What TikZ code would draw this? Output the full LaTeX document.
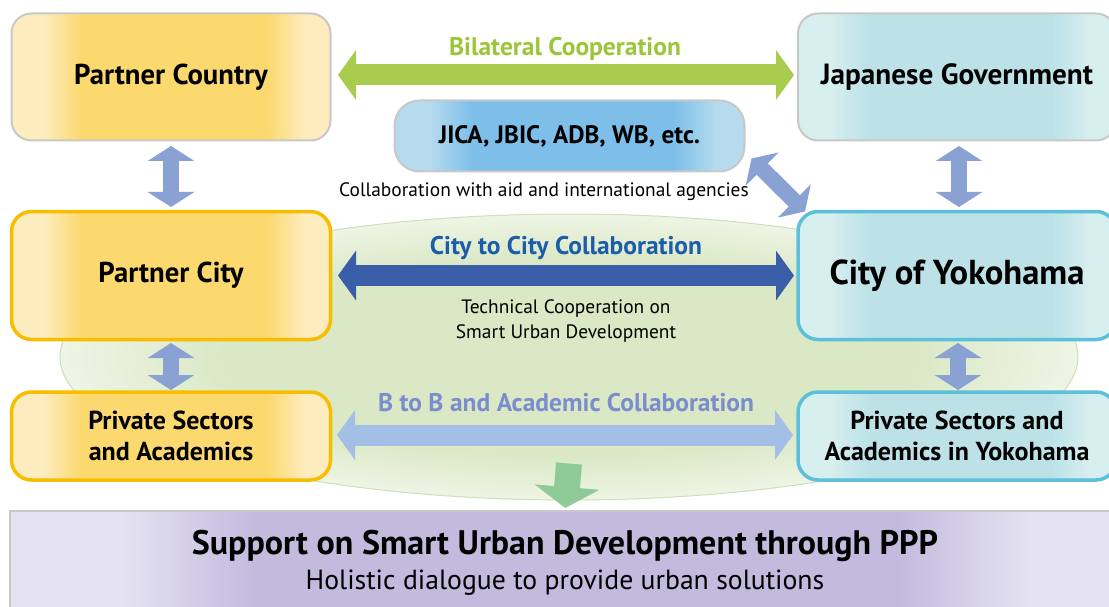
\documentclass[tikz,border=0pt]{standalone}
\usepackage{fontspec}
\setmainfont{PT Sans}
\usetikzlibrary{arrows.meta, shapes.geometric}

\definecolor{yellowedge}{RGB}{253,236,190}
\definecolor{yellowmid}{RGB}{252,217,110}
\definecolor{tealedge}{RGB}{216,239,239}
\definecolor{tealmid}{RGB}{188,226,232}
\definecolor{blueedge}{RGB}{182,219,238}
\definecolor{bluemid}{RGB}{126,191,234}
\definecolor{lilacedge}{RGB}{229,227,241}
\definecolor{lilacmid}{RGB}{195,187,222}
\definecolor{zonemid}{RGB}{218,232,198}
\definecolor{zoneedge}{RGB}{238,245,229}
\definecolor{zoneline}{RGB}{205,224,182}
\definecolor{greyline}{RGB}{200,200,200}
\definecolor{yellowline}{RGB}{248,189,0}
\definecolor{cyanline}{RGB}{92,192,218}
\definecolor{bilatgreen}{RGB}{168,205,78}
\definecolor{bilattext}{RGB}{156,198,58}
\definecolor{citoblue}{RGB}{58,95,168}
\definecolor{citotext}{RGB}{28,92,170}
\definecolor{btobblue}{RGB}{163,191,230}
\definecolor{btobtext}{RGB}{122,141,205}
\definecolor{linkblue}{RGB}{138,161,212}
\definecolor{resultgreen}{RGB}{143,203,152}

\newcommand{\barshading}[3]{\pgfdeclarehorizontalshading{#1}{100bp}{color(0bp)=(#2); color(30bp)=(#2); color(36bp)=(#3); color(65bp)=(#3); color(71bp)=(#2); color(100bp)=(#2)}}
\barshading{yellowfill}{yellowedge}{yellowmid}
\barshading{tealfill}{tealedge}{tealmid}
\barshading{bluefill}{blueedge}{bluemid}
\barshading{lilacfill}{lilacedge}{lilacmid}
\pgfdeclareradialshading{zonefill}{\pgfpoint{0bp}{0bp}}{color(0bp)=(zonemid); color(17bp)=(zonemid); color(25bp)=(zoneedge); color(50bp)=(zoneedge)}

\begin{document}
\begin{tikzpicture}[x = 1pt, y = -1pt,
        box/.style = {rounded corners = 20pt, minimum width = 319pt, inner sep = 0pt, outer sep = 0pt, align = center, font = \bfseries\fontsize{28.7}{31}\selectfont},
        greybox/.style = {box, draw = greyline, line width = 2pt},
        yellowbox/.style = {box, draw = yellowline, line width = 3.5pt, shading = yellowfill},
        cyanbox/.style = {box, draw = cyanline, line width = 3.5pt, shading = tealfill},
        fat/.style = {line width = 21pt, {Triangle[length = 18pt, width = 49pt]}-{Triangle[length = 18pt, width = 49pt]}},
        link/.style = {draw = linkblue, line width = 16pt, {Triangle[length = 15pt, width = 46pt]}-{Triangle[length = 15pt, width = 46pt]}},
        caption/.style = {font = \bfseries\fontsize{25.5}{28}\selectfont},
        note/.style = {align = center, font = \fontsize{19.4}{25}\selectfont}]
        \clip (0, 0) rectangle (1109, 607);
        \node [ellipse, minimum width = 1018pt, minimum height = 286pt, inner sep = 0pt, shading = zonefill, draw = zoneline, line width = 1pt] (zone) at (569, 357) {};
        % boxes
        \node [greybox, shading = yellowfill, minimum height = 127pt] (pcountry) at (171, 77) {Partner Country};
        \node [greybox, shading = tealfill, minimum width = 318pt, minimum height = 127pt, font = \bfseries\fontsize{29.2}{31}\selectfont] (jgov) at (957, 77) {Japanese Government};
        \node [greybox, shading = bluefill, minimum width = 350pt, minimum height = 71pt, rounded corners = 25pt, font = \bfseries\fontsize{25.2}{28}\selectfont] (jica) at (569.5, 136) {JICA, JBIC, ADB, WB, etc.};
        \node [yellowbox, minimum height = 128pt] (pcity) at (171, 275.5) {Partner City};
        \node [cyanbox, minimum width = 318pt, minimum height = 128pt, font = \bfseries\fontsize{34.6}{38}\selectfont] (yokohama) at (957, 275.5) {City of Yokohama};
        \node [yellowbox, minimum height = 88pt, font = \bfseries\fontsize{26}{31}\selectfont] (pleft) at (171, 436) {Private Sectors\\and Academics};
        \node [cyanbox, minimum width = 318pt, minimum height = 88pt, font = \bfseries\fontsize{26}{31}\selectfont] (pright) at (957, 436) {Private Sectors and\\Academics in Yokohama};
        \node [greybox, shading = lilacfill, sharp corners, minimum width = 1110pt, minimum height = 103pt, font = \bfseries\fontsize{34}{35}\selectfont] (support) at (565, 562.5) {Support on Smart Urban Development through PPP\\\mdseries\fontsize{27.7}{32}\selectfont Holistic dialogue to provide urban solutions};
        % arrows
        \draw [fat, draw = bilatgreen, shorten <= 7.5pt, shorten >= 4pt] ([yshift = 2pt]pcountry.east) -- ([yshift = 2pt]jgov.west);
        \draw [fat, draw = citoblue, shorten <= 7.5pt, shorten >= 4pt] (pcity.east) -- (yokohama.west);
        \draw [fat, draw = btobblue, shorten <= 6.5pt, shorten >= 5pt] ([yshift = 1pt]pleft.east) -- ([yshift = 1pt]pright.west);
        \draw [link, shorten <= 5.5pt, shorten >= 4.5pt] (pcountry.south) -- (pcity.north);
        \draw [link, shorten <= 5.5pt, shorten >= 4.5pt] ([xshift = 2pt]jgov.south) -- ([xshift = 2pt]yokohama.north);
        \draw [link, shorten <= 3.5pt, shorten >= 2pt] (pcity.south) -- (pleft.north);
        \draw [link, shorten <= 3.5pt, shorten >= 2pt] ([xshift = 1pt]yokohama.south) -- ([xshift = 1pt]pright.north);
        \draw [link] ([shift = {(7, -13)}]jica.south east) -- ([shift = {(7, 0)}]yokohama.north west);
        \draw [draw = resultgreen, line width = 26pt, -{Triangle[length = 21pt, width = 64pt]}, shorten >= 3pt] ([yshift = 37pt]zone.south) -- (support.north);
        % labels
        \node [caption, text = bilattext] (bilatlabel) at (565, 49) {Bilateral Cooperation};
        \node [caption, text = citotext] (citylabel) at (566, 248) {City to City Collaboration};
        \node [caption, text = btobtext] (btoblabel) at (566, 403) {B to B and Academic Collaboration};
        \node [note] (aidlabel) at (544, 192) {Collaboration with aid and international agencies};
        \node [note] (techlabel) at (566, 321) {Technical Cooperation on\\Smart Urban Development};
\end{tikzpicture}
\end{document}
